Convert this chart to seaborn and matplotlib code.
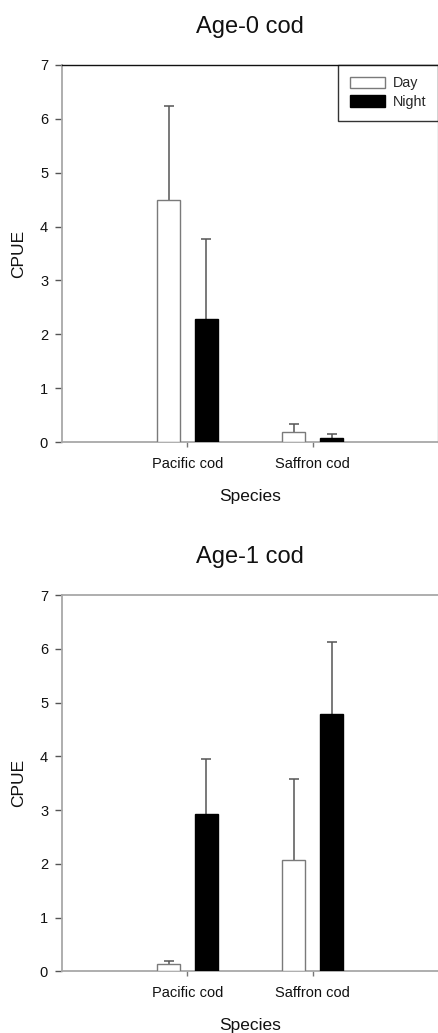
import matplotlib
matplotlib.use("Agg")
import matplotlib.pyplot as plt
import seaborn as sns
import pandas as pd
import numpy as np

species = ["Pacific cod", "Saffron cod"]
periods = ["Day", "Night"]

# Age-0 cod: means and upper error values
age0_day = [4.50, 0.19]
age0_night = [2.28, 0.07]
age0_day_err = [1.73, 0.14]
age0_night_err = [1.48, 0.08]

# Age-1 cod
age1_day = [0.13, 2.07]
age1_night = [2.93, 4.79]
age1_day_err = [0.07, 1.50]
age1_night_err = [1.02, 1.34]

titles = ["Age-0 cod", "Age-1 cod"]
yticks = [0, 1, 2, 3, 4, 5, 6, 7]

sns.set_theme(style="white")
plt.rcParams["font.family"] = ["Liberation Sans", "DejaVu Sans"]

fig = plt.figure(figsize=(4.39, 10.33), dpi=100)
ax_top = fig.add_axes([0.1412, 0.5721, 0.8568, 0.3650])
ax_bot = fig.add_axes([0.1412, 0.0597, 0.8568, 0.3643])

panels = [
    (ax_top, age0_day, age0_night, age0_day_err, age0_night_err, titles[0], True),
    (ax_bot, age1_day, age1_night, age1_day_err, age1_night_err, titles[1], False),
]

spine_gray = "#a8a8a8"
for ax, day, night, derr, nerr, title, first in panels:
    df = pd.DataFrame({
        "Species": species * 2,
        "Period": ["Day"] * len(species) + ["Night"] * len(species),
        "CPUE": list(day) + list(night),
    })
    sns.barplot(data=df, x="Species", y="CPUE", hue="Period", order=species,
                hue_order=periods, palette={"Day": "white", "Night": "black"},
                width=0.6, gap=0.39, errorbar=None, ax=ax, legend=True,
                linewidth=1.0, zorder=3)
    errs = {"Day": derr, "Night": nerr}
    edge = {"Day": "#7a7a7a", "Night": "black"}
    for cont, per in zip(ax.containers, periods):
        xs, ys = [], []
        for patch in cont.patches:
            patch.set_edgecolor(edge[per])
            xs.append(patch.get_x() + patch.get_width() / 2)
            ys.append(patch.get_height())
        _, caps, _ = ax.errorbar(xs, ys, yerr=[np.zeros(len(ys)), errs[per]],
                                 fmt="none", ecolor="#555555", elinewidth=1.1,
                                 capsize=3.4, capthick=1.1, zorder=2)
        if len(caps) == 2:
            caps[0].set_visible(False)
    ax.set_xlim(-1, 2)
    ax.set_ylim(0, 7)
    ax.set_yticks(yticks)
    ax.set_yticklabels([str(t) for t in yticks])
    ax.set_title(title, fontsize=17, pad=23, color="#111111")
    ax.set_xlabel("Species", fontsize=12.5, labelpad=13, color="#111111")
    ax.set_ylabel("CPUE", fontsize=12.5, labelpad=10, color="#111111")
    ax.tick_params(axis="y", which="major", direction="out", length=5,
                   width=1, color="#555555", pad=5, labelsize=10.5,
                   labelcolor="#111111", left=True)
    ax.tick_params(axis="x", which="major", direction="out", length=3.6,
                   width=1, color="#777777", pad=7, labelsize=10.5,
                   labelcolor="#111111", bottom=True)
    for s in ["left", "bottom"]:
        ax.spines[s].set_color(spine_gray)
        ax.spines[s].set_linewidth(1.3)
        ax.spines[s].set_visible(True)
    ax.spines["top"].set_visible(True)
    if first:
        ax.spines["top"].set_color("#111111")
        ax.spines["top"].set_linewidth(1.0)
        ax.spines["right"].set_visible(True)
        ax.spines["right"].set_color(spine_gray)
        ax.spines["right"].set_linewidth(1.0)
        handles, labels = ax.get_legend_handles_labels()
        for h, per in zip(handles, labels):
            h.set_edgecolor(edge[per])
        leg = ax.legend(handles, labels, loc="upper right",
                        bbox_to_anchor=(1.0, 1.0), frameon=True,
                        fancybox=False, edgecolor="black", fontsize=10.3,
                        handlelength=2.45, handleheight=0.9, handletextpad=0.6,
                        labelspacing=0.33, borderpad=0.8, borderaxespad=0.0)
        leg.get_frame().set_linewidth(1.0)
        leg.set_title(None)
    else:
        ax.spines["top"].set_color(spine_gray)
        ax.spines["top"].set_linewidth(1.3)
        ax.spines["right"].set_visible(False)
        if ax.get_legend() is not None:
            ax.get_legend().remove()

fig.savefig("out.png", dpi=100)
